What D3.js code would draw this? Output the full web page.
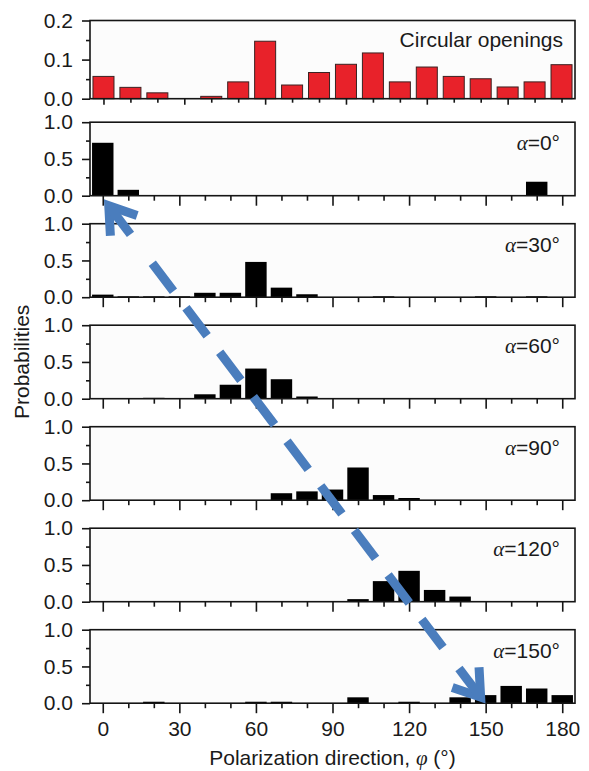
<!DOCTYPE html>
<html><head><meta charset="utf-8">
<script src="https://cdn.jsdelivr.net/npm/d3@7"></script>
<style>
body{margin:0;background:#fff}
text{font-family:"Liberation Sans",Arial,sans-serif;fill:#1a1a1a}
</style>
</head><body>
<svg id="chart" width="589" height="771"></svg>
<script>
// ---------- data ----------
const phiCircular = [0,10,20,30,40,50,60,70,80,90,100,110,120,130,140,150,160,170];
const circular    = [0.057,0.029,0.015,0,0.006,0.043,0.147,0.035,0.067,0.088,0.117,0.043,0.081,0.057,0.051,0.030,0.043,0.087];

const phiAngles = [0,10,20,30,40,50,60,70,80,90,100,110,120,130,140,150,160,170,180];
const alpha0   = [0.72,0.08,0,0,0,0,0,0,0,0,0,0,0,0,0,0,0,0.19,0];
const alpha30  = [0.035,0.012,0.012,0.012,0.06,0.06,0.48,0.13,0.04,0,0,0.012,0,0,0,0.012,0,0.012,0];
const alpha60  = [0,0,0.012,0,0.06,0.19,0.41,0.265,0.03,0,0,0,0,0,0,0,0,0,0];
const alpha90  = [0,0,0,0,0,0,0,0.095,0.12,0.145,0.445,0.07,0.03,0,0,0,0,0,0];
const alpha120 = [0,0,0,0,0,0,0,0,0,0,0.035,0.28,0.42,0.16,0.07,0,0,0,0];
const alpha150 = [0,0,0.02,0,0,0,0.02,0.02,0,0,0.08,0,0.02,0,0.08,0.11,0.235,0.2,0.11];
const alphaValues = ["0","30","60","90","120","150"];
const alphaSeries = [alpha0, alpha30, alpha60, alpha90, alpha120, alpha150];

const yTicksTop = [0,0.1,0.2];
const yMinorTop = [0.05,0.15];
const yTicks = [0,0.5,1.0];
const yMinor = [0.25,0.75];
const xTickLabels = [0,30,60,90,120,150,180];
const xMinor = [10,20,40,50,70,80,100,110,130,140,160,170];
const xTicksTop = [0,30,60,90,120,150];
const xMinorTop = [10,20,40,50,70,80,100,110,130,140,160,170];

// ---------- layout ----------
const svg = d3.select("#chart");
const L = 90, R = 575;
const xTop = d3.scaleLinear().domain([-5,175]).range([L,R]);
const x = d3.scaleLinear().domain([-5,185]).range([L,R]);
const topPanel = {top:20.5, bottom:98.7};
const firstBottom = 195.7, step = 101.5, ph = 73.5;
const barW = 8.4, barWTop = 7.8;
const tickFont = 21;

function frame(top, bottom){
  svg.append("rect").attr("x",L).attr("y",top).attr("width",R-L).attr("height",bottom-top)
    .attr("fill","#fcfcfc");
}
function border(top,bottom){
  svg.append("rect").attr("x",L).attr("y",top).attr("width",R-L).attr("height",bottom-top)
    .attr("fill","none").attr("stroke","#151515").attr("stroke-width",1.6);
}
function styleAxis(g){
  g.select(".domain").remove();
  g.selectAll("line").attr("stroke","#151515").attr("stroke-width",1.6);
  g.selectAll("text").attr("font-size",tickFont).attr("fill","#1a1a1a")
    .attr("font-family","Liberation Sans, Arial, sans-serif");
}

// ---------- top panel ----------
{
  const y = d3.scaleLinear().domain([0,0.2]).range([topPanel.bottom, topPanel.top]);
  frame(topPanel.top, topPanel.bottom);
  svg.append("g").selectAll("rect").data(phiCircular.map((p,i)=>({p,v:circular[i]})).filter(d=>d.v>0))
    .join("rect")
    .attr("x",d=>xTop(d.p-barWTop/2)).attr("width",xTop(barWTop)-xTop(0))
    .attr("y",d=>y(d.v)).attr("height",d=>y(0)-y(d.v))
    .attr("fill","#e8222a").attr("stroke","#3b2222").attr("stroke-width",1);
  border(topPanel.top, topPanel.bottom);
  svg.append("g").attr("transform",`translate(${L},0)`)
    .call(d3.axisLeft(y).tickValues(yTicksTop).tickFormat(d3.format(".1f")).tickSize(8).tickPadding(9))
    .call(styleAxis);
  svg.append("g").attr("transform",`translate(${L},0)`)
    .call(d3.axisLeft(y).tickValues(yMinorTop).tickFormat("").tickSize(4)).call(styleAxis);
  svg.append("g").attr("transform",`translate(0,${topPanel.bottom})`)
    .call(d3.axisBottom(xTop).tickValues(xTicksTop).tickFormat("").tickSize(6)).call(styleAxis);
  svg.append("g").attr("transform",`translate(0,${topPanel.bottom})`)
    .call(d3.axisBottom(xTop).tickValues(xMinorTop).tickFormat("").tickSize(4)).call(styleAxis);
  svg.append("text").attr("x",563).attr("y",topPanel.top+26).attr("text-anchor","end")
    .attr("font-size",21).text("Circular openings");
}

// ---------- alpha panels ----------
const panelY = [];
alphaSeries.forEach((vals, k) => {
  const bottom = firstBottom + k*step, top = bottom - ph;
  const y = d3.scaleLinear().domain([0,1]).range([bottom, top]);
  panelY.push(y);
  frame(top, bottom);
  svg.append("g").selectAll("rect").data(phiAngles.map((p,i)=>({p,v:vals[i]})).filter(d=>d.v>0))
    .join("rect")
    .attr("x",d=>x(d.p-barW/2)).attr("width",x(barW)-x(0))
    .attr("y",d=>y(d.v)).attr("height",d=>y(0)-y(d.v))
    .attr("fill","#000");
  border(top, bottom);
  svg.append("g").attr("transform",`translate(${L},0)`)
    .call(d3.axisLeft(y).tickValues(yTicks).tickFormat(d3.format(".1f")).tickSize(8).tickPadding(9))
    .call(styleAxis);
  svg.append("g").attr("transform",`translate(${L},0)`)
    .call(d3.axisLeft(y).tickValues(yMinor).tickFormat("").tickSize(4)).call(styleAxis);
  const last = k === alphaSeries.length-1;
  svg.append("g").attr("transform",`translate(0,${bottom})`)
    .call(d3.axisBottom(x).tickValues(xTickLabels).tickFormat(last ? d3.format("d") : "").tickSize(10).tickPadding(8))
    .call(styleAxis);
  svg.append("g").attr("transform",`translate(0,${bottom})`)
    .call(d3.axisBottom(x).tickValues(xMinor).tickFormat("").tickSize(5)).call(styleAxis);
  const t = svg.append("text").attr("x",560).attr("y",top+28).attr("text-anchor","end").attr("font-size",21);
  t.append("tspan").attr("font-family","Liberation Serif, serif").attr("font-style","italic").text("α");
  t.append("tspan").text("=" + alphaValues[k] + "°");
});

// ---------- axis titles ----------
{
  const t = svg.append("text").attr("x",(x(0)+x(180))/2).attr("y",765).attr("text-anchor","middle").attr("font-size",21);
  t.append("tspan").text("Polarization direction, ");
  t.append("tspan").attr("font-style","italic").attr("font-family","Liberation Serif, serif").text("φ");
  t.append("tspan").text(" (°)");
  svg.append("text").attr("transform",`translate(29,${(topPanel.top+firstBottom+5*step)/2}) rotate(-90)`)
    .attr("text-anchor","middle").attr("font-size",21).text("Probabilities");
}

// ---------- blue dashed double arrow ----------
{
  const blue = "#4a7dbd";
  const p0 = [x(0)+6, panelY[0](0)+10];
  const p1 = [x(150)-5, panelY[5](0)-6];
  const dx = p1[0]-p0[0], dy = p1[1]-p0[1], len = Math.hypot(dx,dy);
  const u = [dx/len, dy/len];
  const at = t => [p0[0]+u[0]*t, p0[1]+u[1]*t];
  const g = svg.append("g");
  const line = d3.line();
  const dashStart = 0.117*len, dashEnd = 0.9*len;
  g.append("path").attr("d", line([at(dashStart), at(dashEnd)]))
    .attr("stroke",blue).attr("stroke-width",9).attr("fill","none")
    .attr("stroke-dasharray", `${0.057*len} ${0.0336*len}`);
  function head(tip, dir){
    const a = 34*Math.PI/180, armLen = 30;
    const rot = (v,ang)=>[v[0]*Math.cos(ang)-v[1]*Math.sin(ang), v[0]*Math.sin(ang)+v[1]*Math.cos(ang)];
    const r1 = rot(dir,a), r2 = rot(dir,-a);
    g.append("path").attr("d", line([[tip[0]+r1[0]*armLen, tip[1]+r1[1]*armLen], tip, [tip[0]+r2[0]*armLen, tip[1]+r2[1]*armLen]]))
      .attr("stroke",blue).attr("stroke-width",9).attr("fill","none").attr("stroke-linejoin","miter");
    g.append("path").attr("d", line([tip, [tip[0]+dir[0]*36, tip[1]+dir[1]*36]]))
      .attr("stroke",blue).attr("stroke-width",9).attr("fill","none");
  }
  head(p0, u);
  head(p1, [-u[0],-u[1]]);
}
</script>
</body></html>
